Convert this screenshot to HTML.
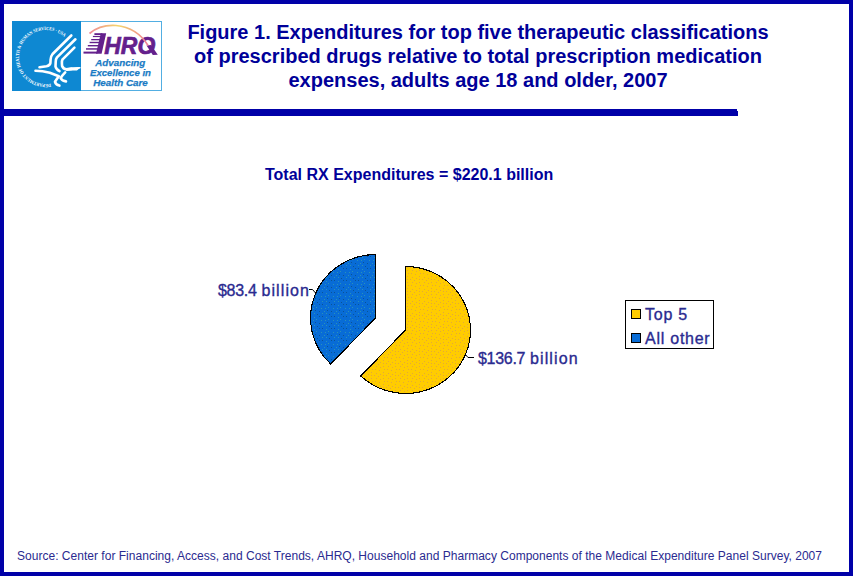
<!DOCTYPE html>
<html><head><meta charset="utf-8">
<style>
html,body{margin:0;padding:0;}
body{width:853px;height:576px;position:relative;overflow:hidden;background:#fff;font-family:"Liberation Sans",sans-serif;}
.frame{position:absolute;left:0;top:0;width:845px;height:568px;border:4px solid #0000A8;}
.rule{position:absolute;left:0;top:109px;width:738px;height:7px;background:#0000A8;}
.t{position:absolute;white-space:nowrap;line-height:1;}
.title{color:#000099;font-weight:bold;font-size:20px;left:178px;width:600px;text-align:center;}
.ct{color:#000099;font-weight:bold;font-size:16px;}
.lbl{color:#2A2A90;font-size:16px;letter-spacing:0.45px;-webkit-text-stroke:0.35px #2A2A90;}
.dg{letter-spacing:-0.3px;}
.bl{letter-spacing:1.1px;}
.src{color:#2A2A90;font-size:12px;letter-spacing:0.02px;}
</style></head><body>
<div class="frame"></div>
<div class="rule"></div>
<div style="position:absolute;left:737px;top:109px;width:1px;height:2px;background:#fff;"></div>

<!-- logo -->
<svg style="position:absolute;left:0;top:0" width="170" height="100">
  <defs>
    <linearGradient id="arcg" x1="89" y1="0" x2="148" y2="0" gradientUnits="userSpaceOnUse">
      <stop offset="0" stop-color="#F08898"/>
      <stop offset="0.5" stop-color="#F4D66A"/>
      <stop offset="1" stop-color="#EE7E98"/>
    </linearGradient>
    <path id="ring" d="M50.7,83.6 A27,27 0 1 1 41.3,30.4 A27,27 0 1 1 50.7,83.6"/>
  </defs>
  <rect x="80.5" y="21.5" width="81" height="69" fill="#fff" stroke="#52AEE2" stroke-width="1"/>
  <rect x="12" y="21" width="69" height="70" fill="#0E88D2"/>
  <text font-family="Liberation Serif" font-weight="bold" font-size="4.8" fill="#fff"><textPath href="#ring" startOffset="0" textLength="109" lengthAdjust="spacingAndGlyphs">DEPARTMENT OF HEALTH &amp; HUMAN SERVICES &#183; USA</textPath></text>
  <g fill="none" stroke="#fff" stroke-width="2.6" stroke-linecap="round" stroke-linejoin="round">
    <path d="M71.3,35.5 L52.6,54 Q50.7,56.3 50.6,59.5 L50.4,63 Q50,65.6 46.5,66.2 L39.5,67.2"/>
    <path d="M75.4,39.3 L57,57.4 Q55.7,59 55.7,62 L55.5,66.5 Q56,69.2 59.5,71.2"/>
    <path d="M74.4,47.6 L62.6,59.3 Q61.8,60.6 61.9,63.5 L62.1,66 Q63,68.8 66.8,69.6 L71.5,68.9"/>
    <path d="M35.5,70.8 Q42.5,71 49.8,72.8 L58.8,76.2 Q56.6,79.2 55,81.8 Q55.8,84.8 59.4,85.6"/>
    <path d="M65.2,72.4 Q62.2,75.4 60.6,78.2 Q62.2,81 66,81.4"/>
  </g>
  <path d="M66,68 Q72,66.8 80.5,67 L80.5,68.2 Q78,69.2 77,70.6 Q72,70.4 66,70.8 Z" fill="#fff"/>
  <g fill="#64208C">
    <path d="M100.8,33.2 L106.2,33.2 L101.6,53.8 L96,53.8 Z"/>
    <rect x="94.4" y="33.2" width="8" height="1.8"/>
    <rect x="92.9" y="35.9" width="8" height="1.2"/>
    <rect x="91.2" y="39" width="9" height="1.3"/>
    <rect x="89.6" y="41.8" width="10" height="1.4"/>
    <rect x="87.8" y="45" width="11" height="1.4"/>
    <rect x="86" y="48.2" width="12" height="1.5"/>
    <rect x="83.5" y="51.6" width="14" height="2"/>
    <text x="104.3" y="53.7" font-family="Liberation Sans" font-weight="bold" font-style="italic" font-size="24" textLength="51" lengthAdjust="spacingAndGlyphs" stroke="#64208C" stroke-width="0.7">HRO</text>
    <path d="M146.5,45.5 L151,45 L157.8,54.8 L152.8,55 Z"/>
  </g>
  <path d="M89.5,33.5 Q100,24.5 116,25.5 Q137,27.5 148,45.5" fill="none" stroke="url(#arcg)" stroke-width="1.7"/>
  <g font-family="Liberation Sans" font-weight="bold" font-style="italic" font-size="9.8" fill="#1A7BC4" stroke="#1A7BC4" stroke-width="0.25" text-anchor="middle">
    <text x="120.3" y="66.2">Advancing</text>
    <text x="120.5" y="76.1" textLength="61" lengthAdjust="spacingAndGlyphs">Excellence in</text>
    <text x="120.5" y="86">Health Care</text>
  </g>
</svg>
<div class="t title" style="top:22px;">Figure 1. Expenditures for top five therapeutic classifications</div>
<div class="t title" style="top:46px;">of prescribed drugs relative to total prescription medication</div>
<div class="t title" style="top:70px;">expenses, adults age 18 and older, 2007</div>

<div class="t ct" style="left:265px;top:167px;">Total RX Expenditures = $220.1 billion</div>

<svg style="position:absolute;left:0;top:0" width="853" height="576">
  <defs>
    <pattern id="py" x="0" y="0" width="12" height="12" patternUnits="userSpaceOnUse"><rect width="12" height="12" fill="#FFCC00"/><g fill="#E3A83A"><rect x="3" y="9" width="1" height="1"/><rect x="8" y="2" width="1" height="1"/><rect x="7" y="10" width="1" height="1"/><rect x="8" y="7" width="1" height="1"/><rect x="2" y="3" width="1" height="1"/><rect x="11" y="0" width="1" height="1"/><rect x="11" y="6" width="1" height="1"/><rect x="4" y="1" width="1" height="1"/><rect x="4" y="6" width="1" height="1"/><rect x="0" y="9" width="1" height="1"/><rect x="11" y="3" width="1" height="1"/><rect x="6" y="4" width="1" height="1"/></g></pattern>
    <pattern id="pb" x="0" y="0" width="12" height="12" patternUnits="userSpaceOnUse"><rect width="12" height="12" fill="#086CD6"/><g fill="#2A92B8"><rect x="0" y="11" width="1" height="1"/><rect x="4" y="7" width="1" height="1"/><rect x="9" y="8" width="1" height="1"/><rect x="1" y="8" width="1" height="1"/><rect x="2" y="1" width="1" height="1"/><rect x="2" y="5" width="1" height="1"/><rect x="10" y="1" width="1" height="1"/></g><g fill="#0A5296"><rect x="7" y="4" width="1" height="1"/><rect x="5" y="2" width="1" height="1"/><rect x="7" y="11" width="1" height="1"/><rect x="10" y="4" width="1" height="1"/><rect x="3" y="10" width="1" height="1"/></g></pattern>
  </defs>
    <path d="M405.5,330 L405.5,266.5 A65,63.5 0 1 1 360.7,376 Z" fill="url(#py)" stroke="#000" stroke-width="1.1" shape-rendering="crispEdges"/>
  <path d="M375.5,318 L330.7,364 A65,63.5 0 0 1 375.5,254.5 Z" fill="url(#pb)" stroke="#000" stroke-width="1.1" shape-rendering="crispEdges"/>
  <polyline points="309,289.5 312.5,289.5 316,293.5" fill="none" stroke="#000" stroke-width="1"/>
  <polyline points="465,354 468,357.5 474,357.5" fill="none" stroke="#000" stroke-width="1"/>
  <rect x="625.5" y="300.5" width="88" height="48" fill="#fff" stroke="#000" stroke-width="1"/>
  <rect x="631.5" y="309.5" width="9" height="9" fill="#FFCC00" stroke="#000" stroke-width="1"/>
  <rect x="631.5" y="333.5" width="9" height="9" fill="#086CD6" stroke="#000" stroke-width="1"/>
</svg>

<div class="t lbl" style="left:218px;top:283px;"><span class="dg">$83.4</span> <span class="bl">billion</span></div>
<div class="t lbl" style="left:478px;top:351px;"><span class="dg">$136.7</span> <span class="bl">billion</span></div>
<div class="t lbl" style="left:645px;top:307px;letter-spacing:0.75px;">Top 5</div>
<div class="t lbl" style="left:645px;top:331px;letter-spacing:0.75px;">All other</div>

<div class="t src" style="left:17px;top:550px;">Source: Center for Financing, Access, and Cost Trends, AHRQ, Household and Pharmacy Components of the Medical Expenditure Panel Survey, 2007</div>
</body></html>
